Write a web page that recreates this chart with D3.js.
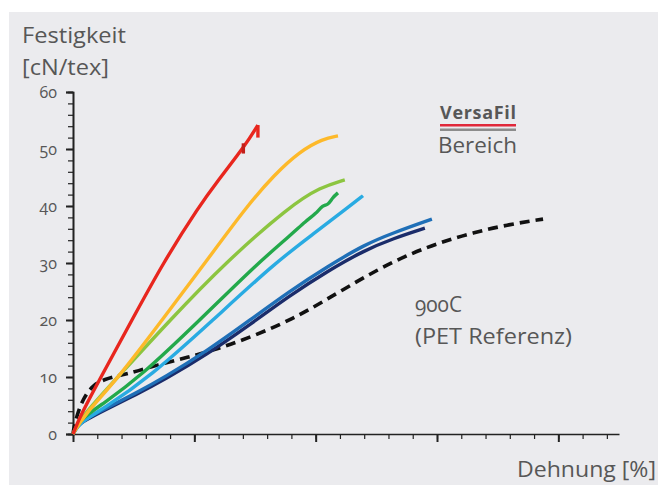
<!DOCTYPE html>
<html>
<head>
<meta charset="utf-8">
<script src="https://cdn.jsdelivr.net/npm/d3@7"></script>
<style>
  body { margin: 0; background: #fff; }
  svg text { font-family: "Open Sans", "Noto Sans", sans-serif; fill: #575757; font-variant-numeric: oldstyle-nums; }
</style>
</head>
<body>
<svg id="chart" width="658" height="485"></svg>
<script>
// values: [Dehnung, Festigkeit]
const red = [[0,0],[0.3,3.2],[1.15,10],[2.43,20],[3.71,30],[5.2,40],[6.0,44.6],[6.8,49],[7.3,52],[7.62,54.2]]
const redHook = [[7.62,54.2],[7.62,52.0]]
const redStub = [[7.02,51.0],[7.02,49.2]]
const yellow = [[0,0],[0.4,3],[1.9,10],[3.67,20],[5.44,30],[7.17,40],[8.3,45.5],[9.35,49.6],[10.3,51.8],[10.92,52.3]]
const lightGreen = [[0,0],[0.3,2.8],[1.85,10],[4.0,20],[6.26,30],[8.94,40],[10.2,43.3],[11.2,44.6]]
const darkGreen = [[0,0],[0.3,2.6],[1.2,5.2],[2.76,10],[5.23,20],[7.62,30],[9.0,35.0],[9.6,37.4],[10.0,38.6],[10.3,40.2],[10.5,40.1],[10.7,41.5],[10.92,42.3]]
const cyan = [[0,0],[0.3,2.1],[1.2,4.3],[3.17,10],[5.77,20],[8.32,30],[9.9,35.1],[11.41,40],[11.95,41.8]]
const blue = [[0,0],[0.15,1.4],[0.5,2.6],[1.3,4.4],[2.6,7.2],[3.79,10],[5.5,14.5],[7.3,20],[8.9,25],[10.5,29.4],[12.0,33.2],[13.2,35.3],[14.79,37.7]]
const navy = [[0,0],[0.15,1.3],[0.5,2.4],[1.3,4.2],[2.6,6.9],[3.79,9.6],[5.5,13.9],[7.3,19.2],[8.9,24.2],[10.5,28.6],[12.0,32.2],[13.2,34.3],[14.5,36.1]]
const pet = [[0,0],[0.04,1.2],[0.16,3.2],[0.41,6.2],[0.82,8.6],[1.3,9.6],[1.94,10.3],[2.64,11.0],[3.71,12.4],[4.7,13.4],[5.77,14.7],[6.76,16.1],[8.12,18.4],[9.06,20.3],[9.77,21.9],[11.12,25.3],[12.53,28.8],[13.89,31.6],[15.12,33.6],[16.48,35.3],[17.88,36.7],[19.37,37.7]]

const yTicks = [0, 10, 20, 30, 40, 50, 60]

const svg = d3.select('#chart')

svg.append('rect')
    .attr('x', 9).attr('y', 12)
    .attr('width', 649).attr('height', 473)
    .attr('fill', '#ebebee')

const x = d3.scaleLinear().domain([0, 22.5]).range([73, 619])
const y = d3.scaleLinear().domain([0, 60]).range([434, 92])

// axes
const yAxis = svg.append('g').attr('transform', 'translate(73,0)')
yAxis.call(d3.axisLeft(y).tickValues(d3.range(0, 61, 2)).tickSize(5).tickFormat(''))
yAxis.append('g').call(d3.axisLeft(y).tickValues(yTicks).tickSize(7).tickPadding(9))
yAxis.selectAll('path.domain').attr('stroke', '#222').attr('stroke-width', 1.6)
yAxis.selectAll('.tick line').attr('stroke', '#222').attr('stroke-width', 1.2)
yAxis.selectAll('g g .tick line').attr('stroke-width', 2)
yAxis.selectAll('.tick text')
    .style('font-size', '16px').style('font-family', '"Open Sans", sans-serif')
    .attr('fill', '#575757')

const xAxis = svg.append('g').attr('transform', 'translate(0,434)')
xAxis.call(d3.axisBottom(x).tickValues(d3.range(0, 22.5, 1)).tickSize(5).tickFormat('').tickSizeOuter(0))
xAxis.append('g').call(d3.axisBottom(x).tickValues([0, 5, 10, 15, 20]).tickSize(8).tickFormat('').tickSizeOuter(0))
xAxis.selectAll('path.domain').attr('stroke', '#222').attr('stroke-width', 1.6)
xAxis.selectAll('g g path.domain').remove()
xAxis.selectAll('.tick line').attr('stroke', '#222').attr('stroke-width', 1.2)
xAxis.selectAll('g g .tick line').attr('stroke-width', 2)

// curves
const smooth = d3.line()
    .x(d => x(d[0]))
    .y(d => y(d[1]))
    .curve(d3.curveBasis)

const straight = d3.line()
    .x(d => x(d[0]))
    .y(d => y(d[1]))

const series = [
    {data: pet, color: '#111', dash: '10,6'},
    {data: navy, color: '#1b2c6a'},
    {data: blue, color: '#1f6fb7'},
    {data: cyan, color: '#29abe2'},
    {data: darkGreen, color: '#23a94b'},
    {data: lightGreen, color: '#8cc540'},
    {data: yellow, color: '#fdb92a'},
    {data: red, color: '#e8261e'},
    {data: redHook, color: '#e8261e', straight: true},
    {data: redStub, color: '#c21f1a', straight: true}
]

svg.append('g').selectAll('path')
    .data(series)
    .enter().append('path')
    .attr('d', d => d.straight ? straight(d.data) : smooth(d.data))
    .attr('fill', 'none')
    .attr('stroke', d => d.color)
    .attr('stroke-width', d => d.dash ? 3.6 : 3.4)
    .attr('stroke-dasharray', d => d.dash || null)
    .attr('stroke-linecap', 'butt')
    .attr('stroke-linejoin', 'round')

// texts
const label = (tx, ty, str, len, size) => svg.append('text')
    .attr('x', tx).attr('y', ty)
    .style('font-size', (size || 22) + 'px')
    .attr('textLength', len).attr('lengthAdjust', 'spacingAndGlyphs')
    .text(str)

label(22, 43, 'Festigkeit', 104)
label(22, 75, '[cN/tex]', 87)

svg.append('text').attr('x', 440).attr('y', 119)
    .style('font-size', '18px').style('font-weight', 'bold').attr('fill', '#8c8c8c')
    .attr('textLength', 76).text('VersaFil')
svg.append('rect').attr('x', 440).attr('y', 124).attr('width', 76).attr('height', 2.5).attr('fill', '#e0283a')
svg.append('rect').attr('x', 440).attr('y', 128.5).attr('width', 76).attr('height', 2.5).attr('fill', '#8c8c8c')
label(438, 153, 'Bereich', 79)

label(415, 312, '900C', 47)
label(415, 344, '(PET Referenz)', 157)

label(517, 477, 'Dehnung [%]', 139)
</script>
</body>
</html>
